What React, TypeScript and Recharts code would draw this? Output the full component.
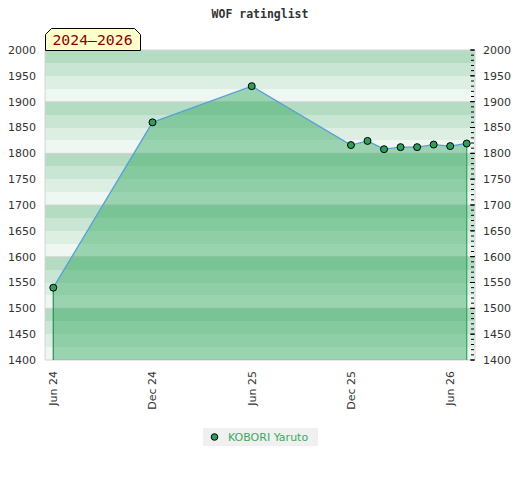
import React from "react";
import {
  ComposedChart,
  Area,
  XAxis,
  YAxis,
  CartesianGrid,
  ReferenceLine,
  Legend,
  Customized,
} from "recharts";

const seriesName = "KOBORI Yaruto";
const titleText = "WOF ratinglist";
const periodText = "2024–2026";

const ratingDates = [
  "2024-06",
  "2024-12",
  "2025-06",
  "2025-12",
  "2026-01",
  "2026-02",
  "2026-03",
  "2026-04",
  "2026-05",
  "2026-06",
  "2026-07",
];
const ratingValues = [1540, 1860, 1930, 1816, 1824, 1808, 1812, 1812, 1817, 1814, 1819];

const xTickDates = ["2024-06", "2024-12", "2025-06", "2025-12", "2026-06"];
const xTickLabels = ["Jun 24", "Dec 24", "Jun 25", "Dec 25", "Jun 26"];

const yTicks = [1400, 1450, 1500, 1550, 1600, 1650, 1700, 1750, 1800, 1850, 1900, 1950, 2000];
const yGridValues = [1400, 1500, 1600, 1700, 1800, 1900, 2000];
const yBandValues = [
  1400, 1425, 1450, 1475, 1500, 1525, 1550, 1575, 1600, 1625, 1650, 1675, 1700,
  1725, 1750, 1775, 1800, 1825, 1850, 1875, 1900, 1925, 1950, 1975, 2000,
];
const yMinorTicks = [
  1400, 1410, 1420, 1430, 1440, 1450, 1460, 1470, 1480, 1490, 1500, 1510, 1520,
  1530, 1540, 1550, 1560, 1570, 1580, 1590, 1600, 1610, 1620, 1630, 1640, 1650,
  1660, 1670, 1680, 1690, 1700, 1710, 1720, 1730, 1740, 1750, 1760, 1770, 1780,
  1790, 1800, 1810, 1820, 1830, 1840, 1850, 1860, 1870, 1880, 1890, 1900, 1910,
  1920, 1930, 1940, 1950, 1960, 1970, 1980, 1990, 2000,
];
const yDomain = [1400, 2000];
const firstMonth = "2024-06";
const lastMonth = "2026-07";

const monthIndex = (s: string) => {
  const [y, m] = s.split("-").map(Number);
  const [y0, m0] = firstMonth.split("-").map(Number);
  return (y - y0) * 12 + (m - m0);
};

const data = ratingDates.map((d, i) => ({ x: monthIndex(d), rating: ratingValues[i] }));
const xTicks = xTickDates.map(monthIndex);
const xDomain = [monthIndex(firstMonth) - 0.5, monthIndex(lastMonth) + 0.5];

const bandColors = ["#b3dcc2", "#c8e6d3", "#ddefe3", "#eff7f2"];
const FONT = "'DejaVu Sans', sans-serif";
const MONO = "'DejaVu Sans Mono', monospace";
const GREEN = "#2e9e5a";

const XTick = (props: any) => {
  const { x, y, payload } = props;
  const idx = xTicks.indexOf(payload.value);
  return (
    <text
      transform={`translate(${x},${y}) rotate(-90)`}
      textAnchor="end"
      dy="0.35em"
      fontSize={11}
      fontFamily={FONT}
      fill="#333"
    >
      {idx >= 0 ? xTickLabels[idx] : ""}
    </text>
  );
};

const EmptyTick = () => <g />;

const Header = () => (
  <g>
    <text
      x={260}
      y={17.5}
      textAnchor="middle"
      fontFamily={MONO}
      fontWeight="bold"
      fontSize={11.5}
      fill="#333"
    >
      {titleText}
    </text>
    <path
      d="M45.5,50.5 L45.5,34.5 L51.5,28.5 L134.5,28.5 L140.5,34.5 L140.5,50.5 Z"
      fill="#ffffcc"
      stroke="#000"
      strokeWidth={1}
    />
    <text x={92.5} y={45} textAnchor="middle" fontFamily={MONO} fontSize={14.8} fill="#8b0000">
      {periodText}
    </text>
  </g>
);

const LegendContent = () => (
  <div
    style={{
      background: "#f0f0f0",
      width: 115,
      height: 18,
      display: "flex",
      alignItems: "center",
      fontFamily: FONT,
      fontSize: 11,
      color: "#3aaa62",
      boxSizing: "border-box",
      paddingLeft: 7,
    }}
  >
    <svg width={10} height={10} style={{ marginRight: 8 }}>
      <circle cx={4.5} cy={5} r={3.3} fill={GREEN} stroke="#000" strokeWidth={1} />
    </svg>
    <span>{seriesName}</span>
  </div>
);

export default function App() {
  const first = data[0];
  const last = data[data.length - 1];
  return (
    <div style={{ position: "absolute", left: 0, top: 0, width: 520, height: 480, background: "#fff" }}>
      <ComposedChart
        width={520}
        height={480}
        data={data}
        margin={{ top: 50, right: 0, bottom: 60, left: 0 }}
      >
        <CartesianGrid
          yAxisId="left"
          horizontalValues={yBandValues}
          horizontalFill={bandColors}
          vertical={false}
          stroke="none"
        />
        <CartesianGrid
          yAxisId="left"
          horizontalValues={yGridValues}
          verticalValues={xDomain}
          stroke="#d4d4d4"
        />
        <XAxis
          dataKey="x"
          type="number"
          domain={xDomain}
          ticks={xTicks}
          interval={0}
          height={60}
          axisLine={false}
          tickLine={false}
          tickSize={0}
          tickMargin={11}
          tick={<XTick />}
          allowDataOverflow
        />
        <YAxis
          yAxisId="left"
          orientation="left"
          domain={yDomain}
          ticks={yTicks}
          interval={0}
          width={45}
          axisLine={false}
          tickLine={false}
          tickSize={6}
          tickMargin={3}
          tick={{ fontSize: 11, fontFamily: FONT, fill: "#333" }}
          allowDataOverflow
        />
        <YAxis
          yAxisId="right"
          orientation="right"
          domain={yDomain}
          ticks={yTicks}
          interval={0}
          width={45}
          axisLine={false}
          tickLine={false}
          tickSize={6}
          tickMargin={2}
          tick={{ fontSize: 11, fontFamily: FONT, fill: "#333", textAnchor: "start" }}
          allowDataOverflow
        />
        <YAxis
          yAxisId="minor"
          orientation="right"
          mirror
          domain={yDomain}
          ticks={yMinorTicks}
          interval={0}
          width={1}
          axisLine={false}
          tickLine={{ stroke: "#000", strokeWidth: 1 }}
          tickSize={3}
          tick={<EmptyTick />}
          allowDataOverflow
        />
        <YAxis
          yAxisId="major"
          orientation="right"
          mirror
          domain={yDomain}
          ticks={yTicks}
          interval={0}
          width={1}
          axisLine={false}
          tickLine={{ stroke: "#000", strokeWidth: 1 }}
          tickSize={5}
          tick={<EmptyTick />}
          allowDataOverflow
        />
        <Area
          yAxisId="left"
          type="linear"
          dataKey="rating"
          name={seriesName}
          stroke="#5a9fd6"
          strokeWidth={1.3}
          fill="#32a75f"
          fillOpacity={0.45}
          dot={false}
          activeDot={false}
          isAnimationActive={false}
        />
        <ReferenceLine
          yAxisId="left"
          segment={[
            { x: first.x, y: yDomain[0] },
            { x: first.x, y: first.rating },
          ]}
          stroke="#2e8b57"
          strokeWidth={1.2}
        />
        <ReferenceLine
          yAxisId="left"
          segment={[
            { x: last.x, y: yDomain[0] },
            { x: last.x, y: last.rating },
          ]}
          stroke="#2ea55a"
          strokeWidth={1.2}
        />
        <Area
          yAxisId="left"
          type="linear"
          dataKey="rating"
          stroke="none"
          fill="none"
          dot={{ r: 3.5, fill: GREEN, stroke: "#000", strokeWidth: 1, fillOpacity: 1 }}
          activeDot={false}
          legendType="none"
          isAnimationActive={false}
        />
        <Customized component={<Header />} />
        <Legend
          layout="horizontal"
          verticalAlign="middle"
          align="center"
          content={<LegendContent />}
          wrapperStyle={{ top: 428, left: 203, width: 115, height: 18 }}
        />
      </ComposedChart>
    </div>
  );
}
